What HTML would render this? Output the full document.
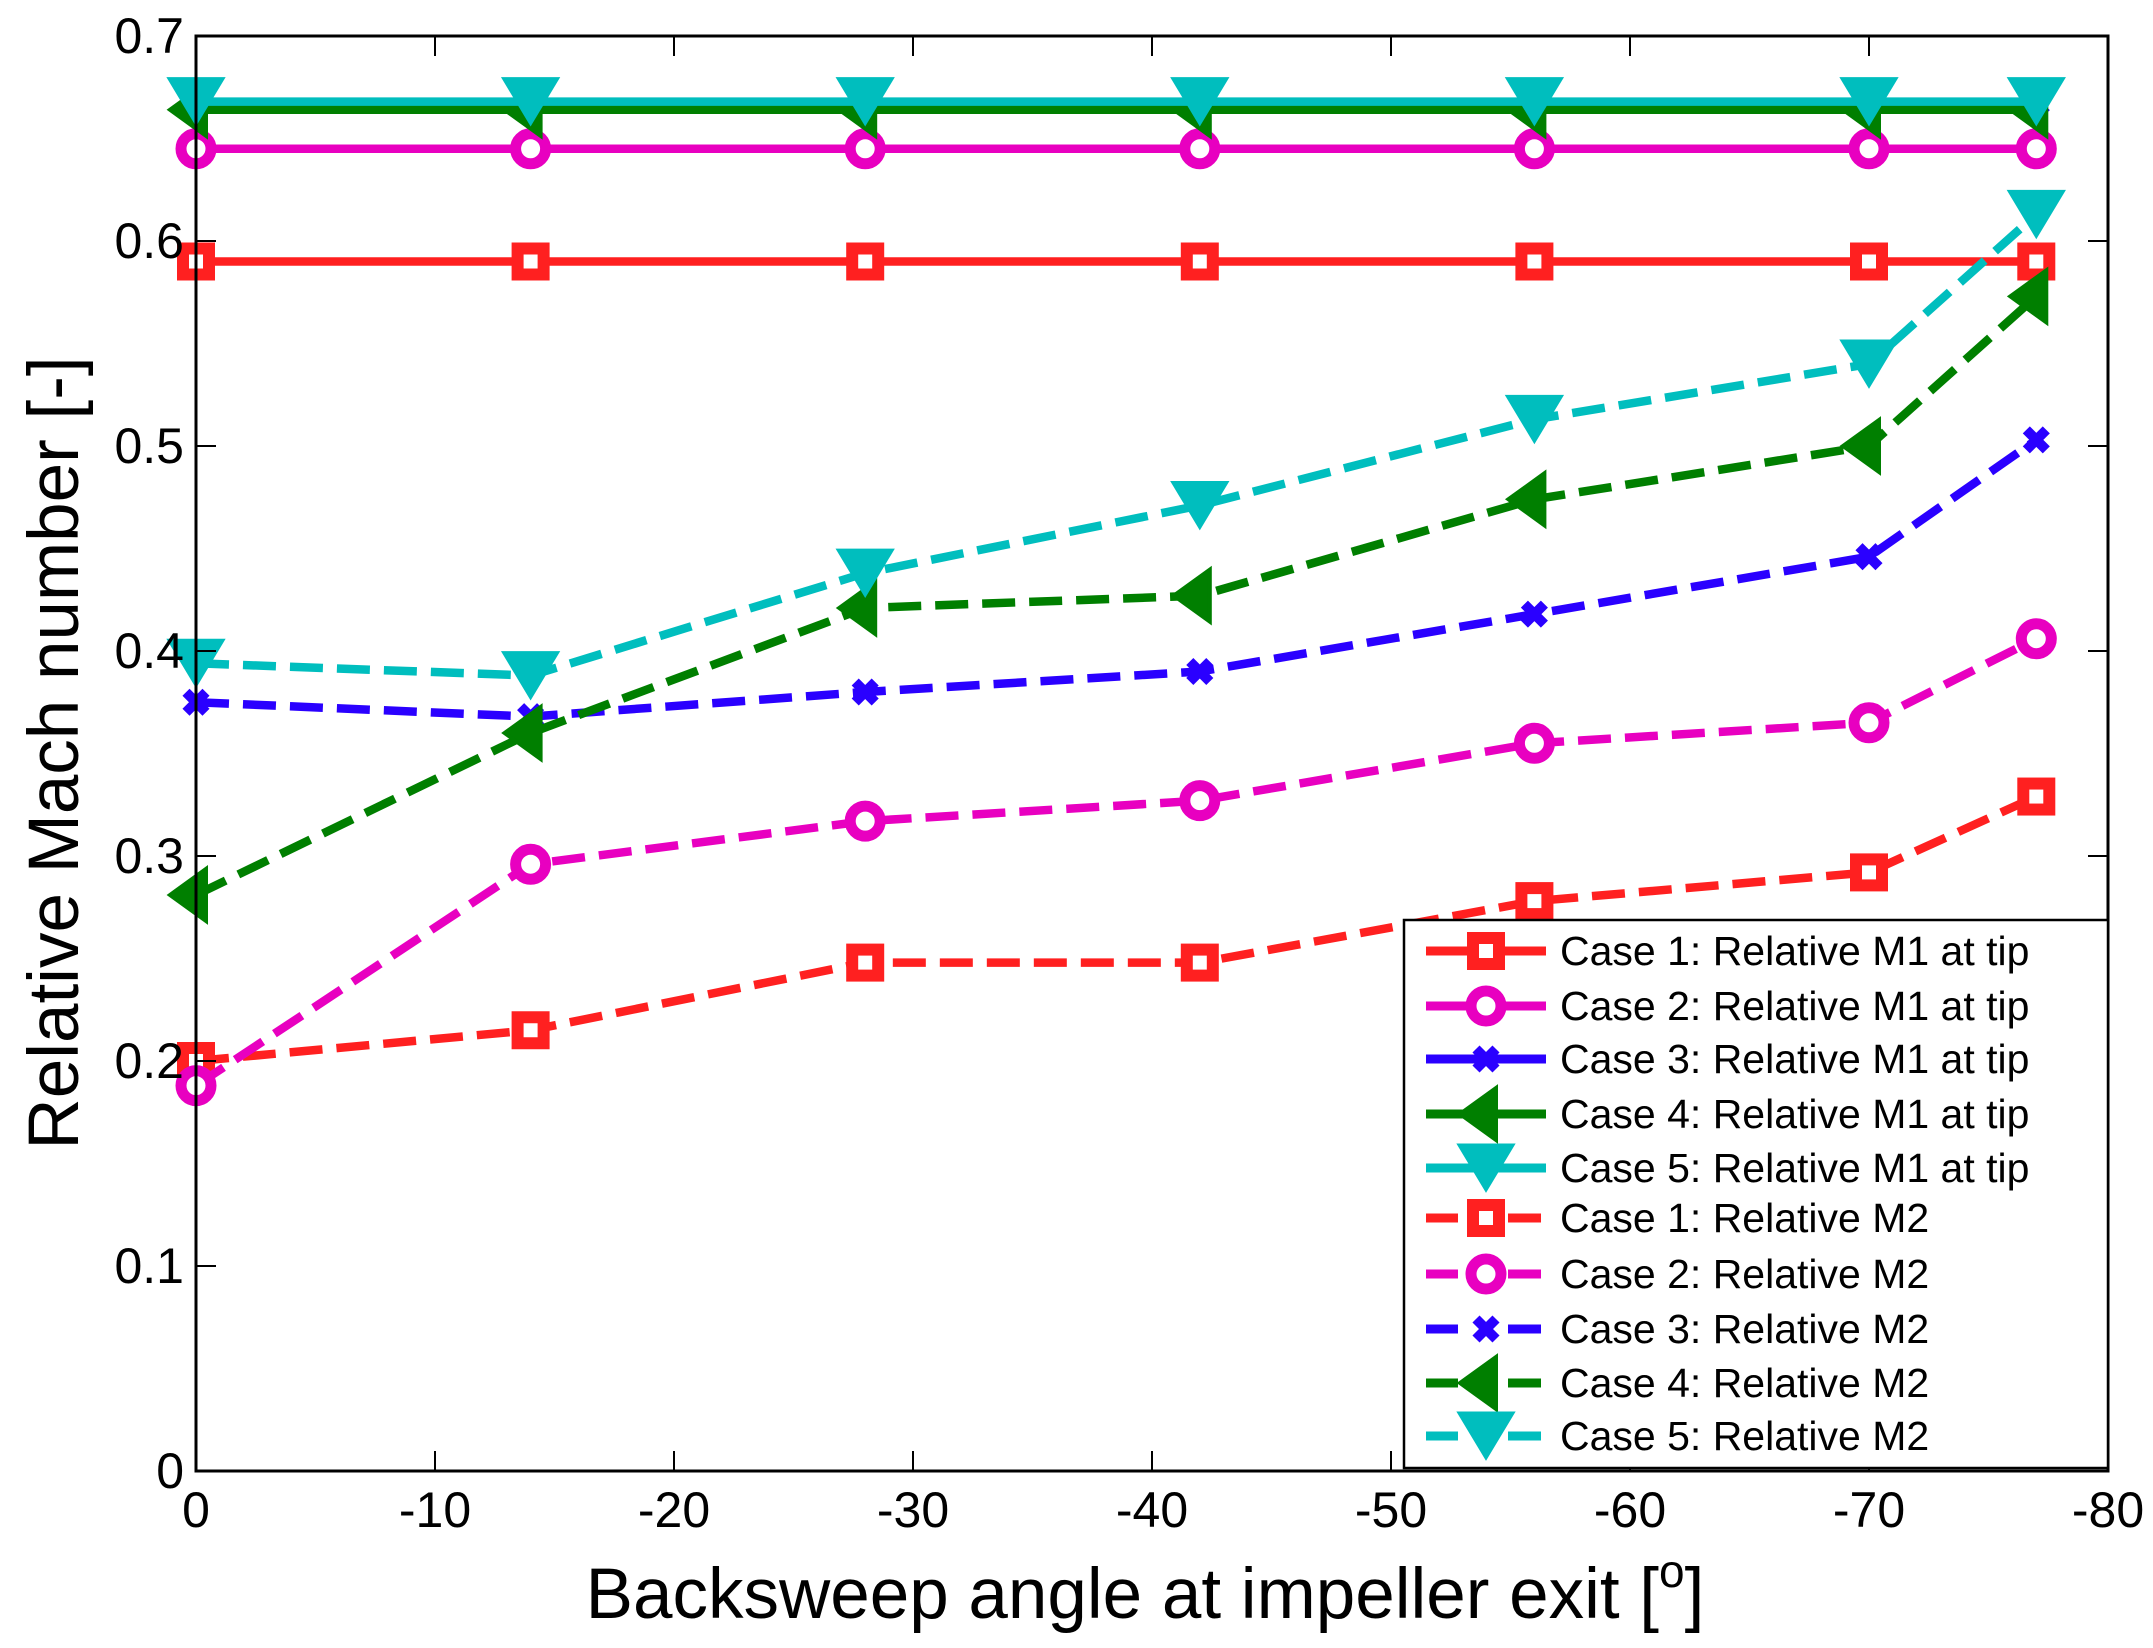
<!DOCTYPE html>
<html><head><meta charset="utf-8"><style>
html,body{margin:0;padding:0;background:#fff;}
svg{display:block;font-family:"Liberation Sans",Arial,sans-serif;}
</style></head><body>
<svg id="s" width="2153" height="1648" viewBox="0 0 2153 1648" xmlns="http://www.w3.org/2000/svg">
<rect width="2153" height="1648" fill="#fff"/>
<g id="plot"></g>
<rect x="196" y="36" width="1912" height="1435" fill="none" stroke="#000" stroke-width="3"/>
<g id="ticks" stroke="#000" stroke-width="2"></g>
<g font-size="50" fill="#000" id="labels"></g>
<text x="78" y="753" font-size="71" text-anchor="middle" transform="rotate(-90 78 753)">Relative Mach number [-]</text>
<text x="1145" y="1618" font-size="71" text-anchor="middle">Backsweep angle at impeller exit [<tspan font-size="46" dy="-31">o</tspan><tspan dy="31">]</tspan></text>
<rect x="1404" y="920" width="704" height="548" fill="#fff" stroke="#000" stroke-width="2.5"/>
<g id="legend"></g>
</svg>
<script>
const NS="http://www.w3.org/2000/svg";
function el(t,a,p){const e=document.createElementNS(NS,t);for(const k in a)e.setAttribute(k,a[k]);(p||document.getElementById('plot')).appendChild(e);return e;}
const X=a=>196+(-a)/80*1912, Y=v=>36+(0.7-v)/0.7*1435;
const ang=[0,-14,-28,-42,-56,-70,-77];
const R='#ff2020',M='#e800c0',B='#2a00ff',G='#007f00',C='#00bebe';
const series=[
 {c:R,m:'sq',d:false,v:[.59,.59,.59,.59,.59,.59,.59]},
 {c:M,m:'ci',d:false,v:[.645,.645,.645,.645,.645,.645,.645]},
 {c:B,m:'x',d:false,v:[.667,.667,.667,.667,.667,.667,.667]},
 {c:G,m:'tl',d:false,v:[.664,.664,.664,.664,.664,.664,.664]},
 {c:C,m:'td',d:false,v:[.668,.668,.668,.668,.668,.668,.668]},
 {c:R,m:'sq',d:true,v:[.20,.215,.248,.248,.278,.292,.329]},
 {c:M,m:'ci',d:true,v:[.188,.296,.317,.327,.355,.365,.406]},
 {c:B,m:'x',d:true,v:[.375,.368,.380,.390,.418,.446,.503]},
 {c:G,m:'tl',d:true,v:[.281,.360,.421,.427,.474,.500,.573]},
 {c:C,m:'td',d:true,v:[.394,.388,.438,.471,.513,.540,.613]},
];
function marker(m,x,y,c,p){
 if(m==='sq')el('rect',{x:x-13,y:y-13,width:26,height:26,fill:'#fff',stroke:c,'stroke-width':12},p);
 else if(m==='ci')el('circle',{cx:x,cy:y,r:15,fill:'#fff',stroke:c,'stroke-width':11},p);
 else if(m==='x'){el('path',{d:`M${x-10} ${y-10}L${x+10} ${y+10}M${x+10} ${y-10}L${x-10} ${y+10}`,stroke:c,'stroke-width':10,fill:'none'},p);}
 else if(m==='tl')el('polygon',{points:`${x-26},${y} ${x+10},${y-26} ${x+10},${y+26}`,fill:c,stroke:c,'stroke-width':4},p);
 else if(m==='td')el('polygon',{points:`${x-27},${y-23} ${x+27},${y-23} ${x},${y+22}`,fill:c,stroke:c,'stroke-width':3},p);
}
const pl=document.getElementById('plot');
series.forEach(s=>{
 const pts=ang.map((a,i)=>X(a)+','+Y(s.v[i])).join(' ');
 const a={points:pts,fill:'none',stroke:s.c,'stroke-width':8.5};
 if(s.d)a['stroke-dasharray']='33 14';
 el('polyline',a,pl);
 ang.forEach((a,i)=>marker(s.m,X(a),Y(s.v[i]),s.c,pl));
});
const tk=document.getElementById('ticks'),lb=document.getElementById('labels');
for(let i=0;i<=7;i++){const y=Y(i/10);
 el('line',{x1:196,y1:y,x2:216,y2:y},tk);el('line',{x1:2108,y1:y,x2:2088,y2:y},tk);
 const t=el('text',{x:184,y:y+17,'text-anchor':'end'},lb);t.textContent=i===0?'0':'0.'+i;}
for(let i=0;i<=8;i++){const x=X(-10*i);
 el('line',{x1:x,y1:1471,x2:x,y2:1451},tk);el('line',{x1:x,y1:36,x2:x,y2:56},tk);
 const t=el('text',{x:x,y:1527,'text-anchor':'middle'},lb);t.textContent=i===0?'0':'-'+(10*i);}
const lg=document.getElementById('legend');
const names=['Case 1: Relative M1 at tip','Case 2: Relative M1 at tip','Case 3: Relative M1 at tip','Case 4: Relative M1 at tip','Case 5: Relative M1 at tip','Case 1: Relative M2','Case 2: Relative M2','Case 3: Relative M2','Case 4: Relative M2','Case 5: Relative M2'];
const rows=[951,1006,1059,1114,1168,1218,1274,1329,1383,1436];
series.forEach((s,i)=>{const y=rows[i];
 if(s.d){el('line',{x1:1426,y1:y,x2:1458,y2:y,stroke:s.c,'stroke-width':9},lg);el('line',{x1:1508,y1:y,x2:1541,y2:y,stroke:s.c,'stroke-width':9},lg);}
 else el('line',{x1:1426,y1:y,x2:1546,y2:y,stroke:s.c,'stroke-width':9},lg);
 marker(s.m,1486,y,s.c,lg);
 const t=el('text',{x:1560,y:y+14,'font-size':41,fill:'#000'},lg);t.textContent=names[i];
});
</script>
</body></html>
